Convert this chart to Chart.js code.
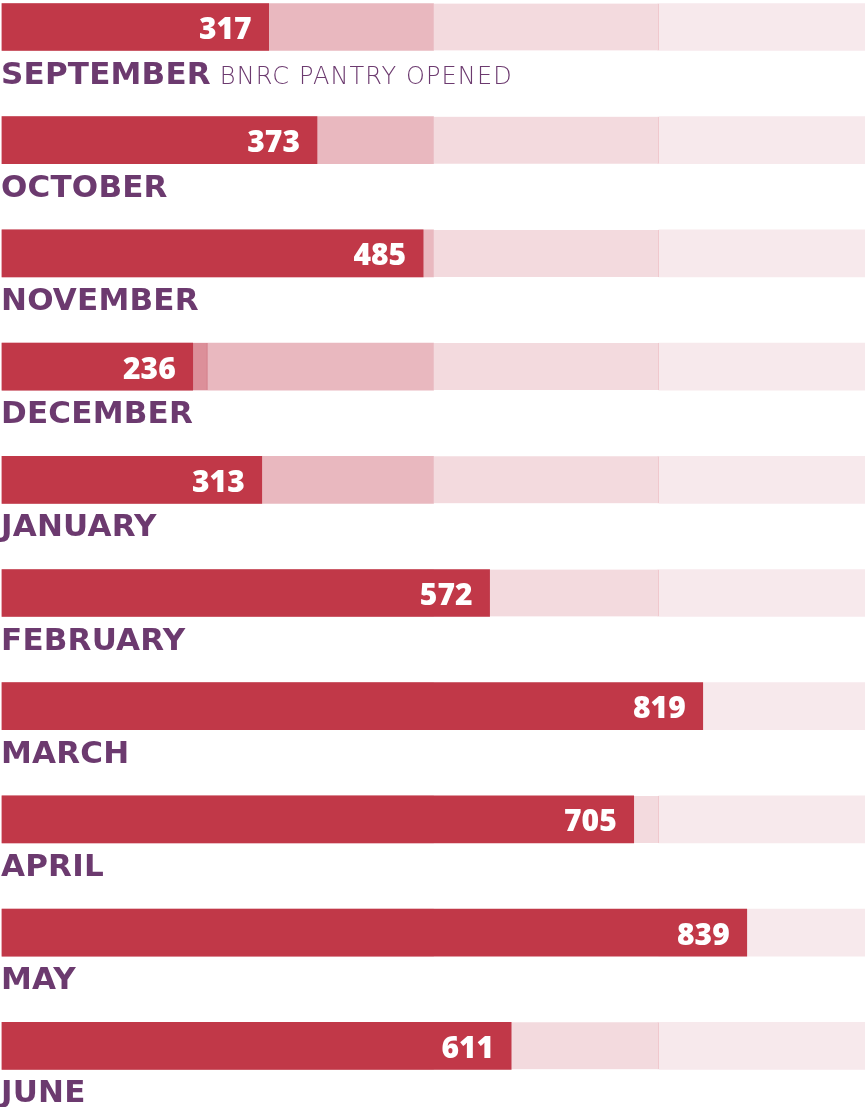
<!DOCTYPE html>
<html>
<head>
<meta charset="utf-8">
<script src="https://cdn.jsdelivr.net/npm/chart.js@4.4.1/dist/chart.umd.min.js"></script>
<style>
  html, body { margin: 0; padding: 0; background: #ffffff; }
  #wrap { position: relative; width: 865px; height: 1107px; }
</style>
</head>
<body>
<div id="wrap"><canvas id="pantry"></canvas></div>
<script>
// Pantry visits per month, September to June
const months = ['SEPTEMBER', 'OCTOBER', 'NOVEMBER', 'DECEMBER', 'JANUARY',
                'FEBRUARY', 'MARCH', 'APRIL', 'MAY', 'JUNE'];
const counts = [317, 373, 485, 236, 313, 572, 819, 705, 839, 611];
// where each red bar ends on the 0-1000 track (as drawn in the picture)
const barEnds = [309, 365, 488, 221, 301, 565, 812, 732, 863, 590];
// December has a short darker-pink piece right after the red bar
const extraEnds = [null, null, null, 238, null, null, null, null, null, null];
// background track bands
const bandEnds = [500, 761, 1000];
const notes = ['BNRC PANTRY OPENED', '', '', '', '', '', '', '', '', ''];

const RED = '#c13848';
const PURPLE = '#6c3a6f';

const rowLabels = {
    id: 'rowLabels',
    afterDatasetsDraw(chart) {
        const ctx = chart.ctx;
        const bars = chart.getDatasetMeta(0).data;
        ctx.save();
        ctx.textBaseline = 'alphabetic';
        bars.forEach((bar, i) => {
            // count, inside the end of the red bar
            ctx.font = '800 30px "Open Sans"';
            ctx.fillStyle = '#ffffff';
            ctx.textAlign = 'right';
            ctx.fillText(String(counts[i]), bar.x - 17, bar.y + 12);

            // month name under the bar
            ctx.font = 'bold 31px "DejaVu Sans"';
            ctx.letterSpacing = '0.2px';
            ctx.fillStyle = PURPLE;
            ctx.textAlign = 'left';
            ctx.fillText(months[i], 1, bar.y + 56.5);

            if (notes[i]) {
                const w = ctx.measureText(months[i]).width;
                ctx.font = '200 24px "DejaVu Sans ExtraLight", "DejaVu Sans"';
                ctx.letterSpacing = '1.1px';
                ctx.fillText(notes[i], 1 + w + 9, bar.y + 56.5);
            }
            ctx.letterSpacing = '0px';
        });
        ctx.restore();
    }
};

const noBorder = { top: 0, right: 0, bottom: 0, left: 0 };

new Chart(document.getElementById('pantry'), {
    type: 'bar',
    data: {
        labels: months,
        datasets: [
            {
                label: 'Visits',
                data: barEnds.map(v => [0, v]),
                backgroundColor: RED,
                order: 0
            },
            {
                label: 'December extra',
                data: extraEnds.map((v, i) => v == null ? null : [barEnds[i], v]),
                backgroundColor: '#dc8f99',
                borderColor: '#d27683',
                borderWidth: { top: 0, right: 1, bottom: 0, left: 0 },
                order: 1
            },
            {
                label: 'Band 1',
                data: months.map(() => [0, bandEnds[0]]),
                backgroundColor: '#e9b8bf',
                order: 2
            },
            {
                label: 'Band 2',
                data: months.map(() => [bandEnds[0], bandEnds[1]]),
                backgroundColor: '#f3dade',
                borderColor: '#efc6cc',
                borderWidth: { top: 0, right: 1, bottom: 0, left: 0 },
                order: 3
            },
            {
                label: 'Band 3',
                data: months.map(() => [bandEnds[1], bandEnds[2]]),
                backgroundColor: '#f7e9ec',
                order: 4
            }
        ]
    },
    options: {
        indexAxis: 'y',
        responsive: true,
        maintainAspectRatio: false,
        animation: false,
        events: [],
        layout: {
            padding: { left: 2, right: 0, top: 27, bottom: 61.2 }
        },
        datasets: {
            bar: {
                grouped: false,
                barThickness: 47,
                borderSkipped: false,
                borderWidth: noBorder,
                clip: false
            }
        },
        plugins: {
            legend: { display: false },
            tooltip: { enabled: false }
        },
        scales: {
            x: { type: 'linear', min: 0, max: 1000, display: false },
            y: { type: 'category', offset: false, display: false, grid: { display: false } }
        }
    },
    plugins: [rowLabels]
});
</script>
</body>
</html>
